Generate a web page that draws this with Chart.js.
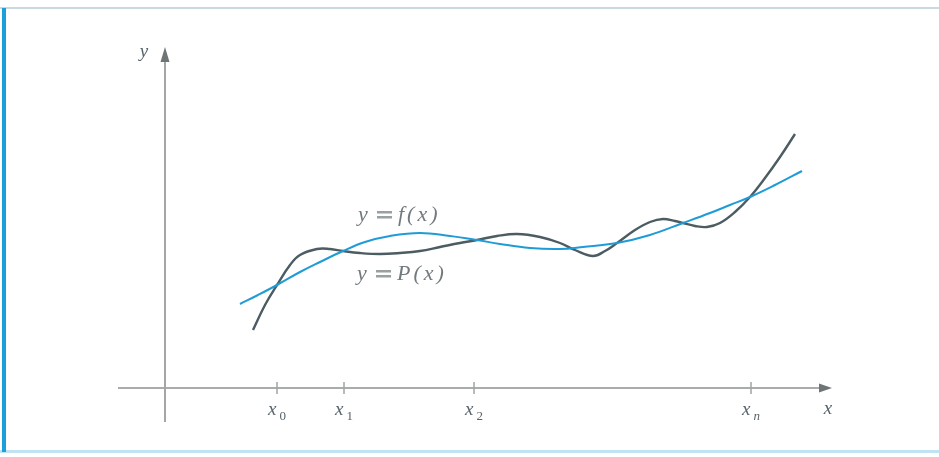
<!DOCTYPE html>
<html>
<head>
<meta charset="utf-8">
<script src="https://cdn.jsdelivr.net/npm/chart.js@4/dist/chart.umd.min.js"></script>
<style>
  html, body { margin: 0; padding: 0; background: #ffffff; }
  #wrap { width: 939px; height: 457px; position: relative; }
</style>
</head>
<body>
<div id="wrap"><canvas id="c" width="939" height="457"></canvas></div>
<script>
// Interpolation nodes on the x axis and their subscripts
const nodeX = [11.2, 17.9, 30.9, 58.6];
const nodeSub = ['0', '1', '2', 'n'];

// The function f(x)
const fX = [7.5, 9.3, 11.2, 13.5, 15.5, 17.8, 20.0, 22.5, 25.5, 28.5, 31.2, 33.5, 36.5, 39.5, 41.8, 45.2, 48.5, 51.8, 54.5, 56.5, 58.5, 61.0, 63.7];
const fY = [8.4, 9.3, 10.3, 11.6, 12.6, 13.7, 14.6, 15.2, 15.5, 15.2, 14.8, 14.4, 14.0, 13.9, 14.1, 14.5, 15.3, 16.5, 17.5, 18.3, 19.1, 20.3, 21.7];

// The interpolating polynomial P(x)
const pX = [8.8, 10.0, 11.2, 12.5, 13.5, 15.2, 16.5, 17.8, 19.5, 21.5, 23.5, 25.5, 27.5, 29.5, 31.2, 33.2, 35.2, 37.5, 39.5, 41.0, 42.8, 44.0, 45.2, 47.0, 48.5, 49.8, 51.0, 51.8, 53.0, 54.2, 55.5, 57.0, 58.5, 60.0, 61.5, 63.0];
const pY = [5.8, 8.3, 10.3, 12.3, 13.3, 13.9, 13.9, 13.7, 13.5, 13.4, 13.5, 13.7, 14.1, 14.5, 14.8, 15.2, 15.4, 15.1, 14.5, 13.8, 13.2, 13.7, 14.5, 15.8, 16.6, 16.9, 16.7, 16.5, 16.2, 16.1, 16.5, 17.6, 19.1, 21.0, 23.1, 25.4];

// Axis extents (data units)
const xAxisFrom = -4.7, xAxisTo = 66.7;
const yAxisFrom = -3.4, yAxisTo = 34.1;

const toPoints = (xs, ys) => xs.map((x, i) => ({ x: x, y: ys[i] }));

const SERIF = '"Liberation Serif", "DejaVu Serif", serif';

const figurePlugin = {
  id: 'figure',
  beforeDatasetsDraw(chart) {
    const ctx = chart.ctx;
    const sx = chart.scales.x, sy = chart.scales.y;
    const W = chart.width;
    ctx.save();
    // frame: thin top and bottom rules, thick left bar
    ctx.fillStyle = '#c9d9e0';
    ctx.fillRect(0, 7, W, 2);
    ctx.fillStyle = '#bfe3f3';
    ctx.fillRect(0, 450, W, 3);
    ctx.fillStyle = '#1ba0dc';
    ctx.fillRect(2, 8, 4, 444);

    const ox = sx.getPixelForValue(0), oy = sy.getPixelForValue(0);
    ctx.strokeStyle = '#a9acae';
    ctx.lineWidth = 2;
    // x axis
    const xa = sx.getPixelForValue(xAxisFrom), xb = sx.getPixelForValue(xAxisTo);
    ctx.beginPath(); ctx.moveTo(xa, oy); ctx.lineTo(xb - 10, oy); ctx.stroke();
    ctx.fillStyle = '#6f7477';
    ctx.beginPath(); ctx.moveTo(xb, oy); ctx.lineTo(xb - 13, oy - 4.5); ctx.lineTo(xb - 13, oy + 4.5); ctx.closePath(); ctx.fill();
    // y axis
    const ya = sy.getPixelForValue(yAxisFrom), yb = sy.getPixelForValue(yAxisTo);
    ctx.strokeStyle = '#a3a6a8';
    ctx.beginPath(); ctx.moveTo(ox, ya); ctx.lineTo(ox, yb + 10); ctx.stroke();
    ctx.beginPath(); ctx.moveTo(ox, yb); ctx.lineTo(ox - 4.5, yb + 15); ctx.lineTo(ox + 4.5, yb + 15); ctx.closePath(); ctx.fill();

    // node ticks and labels
    ctx.strokeStyle = '#a0a4a6';
    ctx.lineWidth = 1.5;
    nodeX.forEach((v, i) => {
      const px = sx.getPixelForValue(v);
      ctx.beginPath(); ctx.moveTo(px, oy - 6); ctx.lineTo(px, oy + 6); ctx.stroke();
      ctx.fillStyle = '#56636a';
      ctx.font = 'italic 19px ' + SERIF;
      const wMain = ctx.measureText('x').width;
      ctx.font = 'italic 13px ' + SERIF;
      const wSub = ctx.measureText(nodeSub[i]).width;
      const start = px - (wMain + 3 + wSub) / 2;
      ctx.textBaseline = 'alphabetic';
      ctx.textAlign = 'left';
      ctx.font = 'italic 19px ' + SERIF;
      ctx.fillText('x', start, oy + 27);
      ctx.font = (nodeSub[i] === 'n' ? 'italic ' : '') + '13px ' + SERIF;
      ctx.fillText(nodeSub[i], start + wMain + 3, oy + 32);
    });
    // axis names
    ctx.fillStyle = '#56636a';
    ctx.font = 'italic 19px ' + SERIF;
    ctx.textAlign = 'center';
    ctx.fillText('x', sx.getPixelForValue(66.3), oy + 26);
    ctx.fillText('y', ox - 21, sy.getPixelForValue(yAxisTo) + 10);
    ctx.restore();
  },
  afterDatasetsDraw(chart) {
    const ctx = chart.ctx;
    const sx = chart.scales.x, sy = chart.scales.y;
    ctx.save();
    ctx.fillStyle = '#737a7e';
    ctx.textBaseline = 'alphabetic';
    ctx.textAlign = 'left';
    const drawEq = (x0, yv, rhs) => {
      const px = sx.getPixelForValue(x0), py = sy.getPixelForValue(yv);
      ctx.font = 'italic 22px ' + SERIF;
      ctx.letterSpacing = '0px';
      ctx.fillText('y', px, py);
      ctx.fillStyle = '#9a9fa2';
      ctx.fillRect(px + 19, py - 10, 15, 2.5);
      ctx.fillRect(px + 19, py - 5, 15, 2.5);
      ctx.fillStyle = '#737a7e';
      ctx.letterSpacing = '3px';
      ctx.fillText(rhs, px + 40, py);
    };
    drawEq(19.3, 16.7, 'f(x)');
    drawEq(19.2, 10.8, 'P(x)');
    ctx.restore();
  }
};

new Chart(document.getElementById('c'), {
  type: 'line',
  data: {
    datasets: [
      {
        label: 'y = f(x)',
        data: toPoints(fX, fY),
        borderColor: '#1f9bd7',
        borderWidth: 2,
        pointRadius: 0,
        tension: 0.4,
        fill: false
      },
      {
        label: 'y = P(x)',
        data: toPoints(pX, pY),
        borderColor: '#4c5c63',
        borderWidth: 2.4,
        pointRadius: 0,
        tension: 0.4,
        fill: false
      }
    ]
  },
  options: {
    responsive: false,
    animation: false,
    devicePixelRatio: 1,
    layout: { padding: 0 },
    scales: {
      x: { type: 'linear', min: -16.5, max: 77.4, display: false },
      y: { type: 'linear', min: -6.9, max: 38.8, display: false }
    },
    plugins: { legend: { display: false }, tooltip: { enabled: false } }
  },
  plugins: [figurePlugin]
});
</script>
</body>
</html>
